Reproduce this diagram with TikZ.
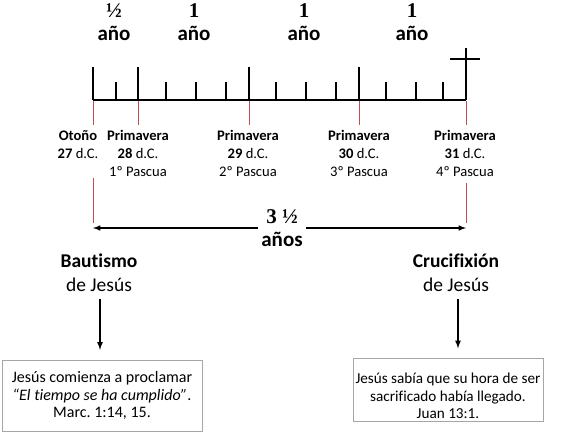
\documentclass[tikz,border=0pt]{standalone}
\usepackage{fontspec}
\setmainfont{Carlito}[Ligatures=NoCommon]
\newfontfamily\numfont{Liberation Serif}
\usetikzlibrary{arrows.meta}
\tikzset{>=latex}
\definecolor{tick red}{HTML}{C0504D}
\definecolor{box gray}{HTML}{A6A6A6}
\frenchspacing

\begin{document}
\begin{tikzpicture}[x=1pt, y=-1pt,
        span/.style={font=\bfseries\fontsize{21}{23}\selectfont, align=center, inner sep=1pt},
        season/.style={font=\fontsize{14.6}{18}\selectfont, align=center, inner sep=1pt, anchor=north},
        event/.style={font=\fontsize{19.5}{22}\selectfont, inner sep=1pt},
        quote/.style={draw=box gray, font=\fontsize{16}{17.5}\selectfont, align=center, inner sep=2pt}]
    \useasboundingbox (0, 0) rectangle (564, 432);
    % timeline
    \draw[line width=1.8pt] (93, 100) -- (466, 100);
    \foreach \x in {93, 138, 249, 359} {
        \draw[line width=1.8pt] (\x, 100) -- (\x, 67);
    }
    \foreach \x in {116, 166, 196, 226, 276, 306, 336, 386, 416, 443} {
        \draw[line width=1.5pt] (\x, 100) -- (\x, 82);
    }
    \draw[line width=1.8pt] (466, 100) -- (466, 48);
    \draw[line width=1.8pt] (450, 59) -- (480, 59);
    % lengths
    \foreach \x/\t [count=\i] in {114/½, 194/1, 304/1, 412/1} {
        \node[span] (yr\i) at (\x, 22) {{\numfont\t}\\año};
    }
    % dates
    \foreach \x in {93, 138, 249, 359, 466} {
        \draw[tick red] (\x, 101) -- (\x, 125);
    }
    \node[season] (d27) at (78, 129) {\textbf{Otoño}\\\textbf{27} d.C.};
    \node[season] (d28) at (138, 129) {\textbf{Primavera}\\\textbf{28} d.C.\\1º Pascua};
    \node[season] (d29) at (248, 129) {\textbf{Primavera}\\\textbf{29} d.C.\\2º Pascua};
    \node[season] (d30) at (359, 129) {\textbf{Primavera}\\\textbf{30} d.C.\\3º Pascua};
    \node[season] (d31) at (465, 129) {\textbf{Primavera}\\\textbf{31} d.C.\\4º Pascua};
    \coordinate (bstart) at (93, 228);
    \coordinate (cend) at (466, 228);
    \draw[tick red] (93, 178) -- (93, 223);
    \draw[tick red] (466, 183) -- (466, 223);
    \draw[<->, line width=1.5pt] (bstart) -- (cend);
    \node[span, fill=white, inner xsep=3pt] (total) at (282, 228) {{\numfont 3 ½}\\años};
    % events
    \node[event, font=\bfseries\fontsize{19.5}{22}\selectfont] (bau) at (99, 261) {Bautismo};
    \node[event] (baujes) at (99, 285) {de Jesús};
    \node[event, font=\bfseries\fontsize{19.5}{22}\selectfont] (cru) at (456, 261) {Crucifixión};
    \node[event] (crujes) at (456, 285) {de Jesús};
    \node[quote, minimum width=200pt, minimum height=71pt] (bbox) at (102, 395.5)
        {Jesús comienza a proclamar\\\textit{“El tiempo se ha cumplido”}.\\Marc. 1:14, 15.};
    \node[quote, font=\fontsize{15.2}{17.5}\selectfont, minimum width=190pt, minimum height=63pt] (cbox) at (448, 390)
        {\rule{0pt}{23pt}Jesús sabía que su hora de ser\\sacrificado había llegado.\\Juan 13:1.};
    \draw[->, line width=1.6pt, shorten <=6pt, shorten >=10pt] ([xshift=1pt]baujes.south) -- ([xshift=1pt]baujes.south |- bbox.north);
    \draw[->, line width=1.6pt, shorten <=6pt, shorten >=10pt] ([xshift=2pt]crujes.south) -- ([xshift=2pt]crujes.south |- cbox.north);
\end{tikzpicture}
\end{document}
